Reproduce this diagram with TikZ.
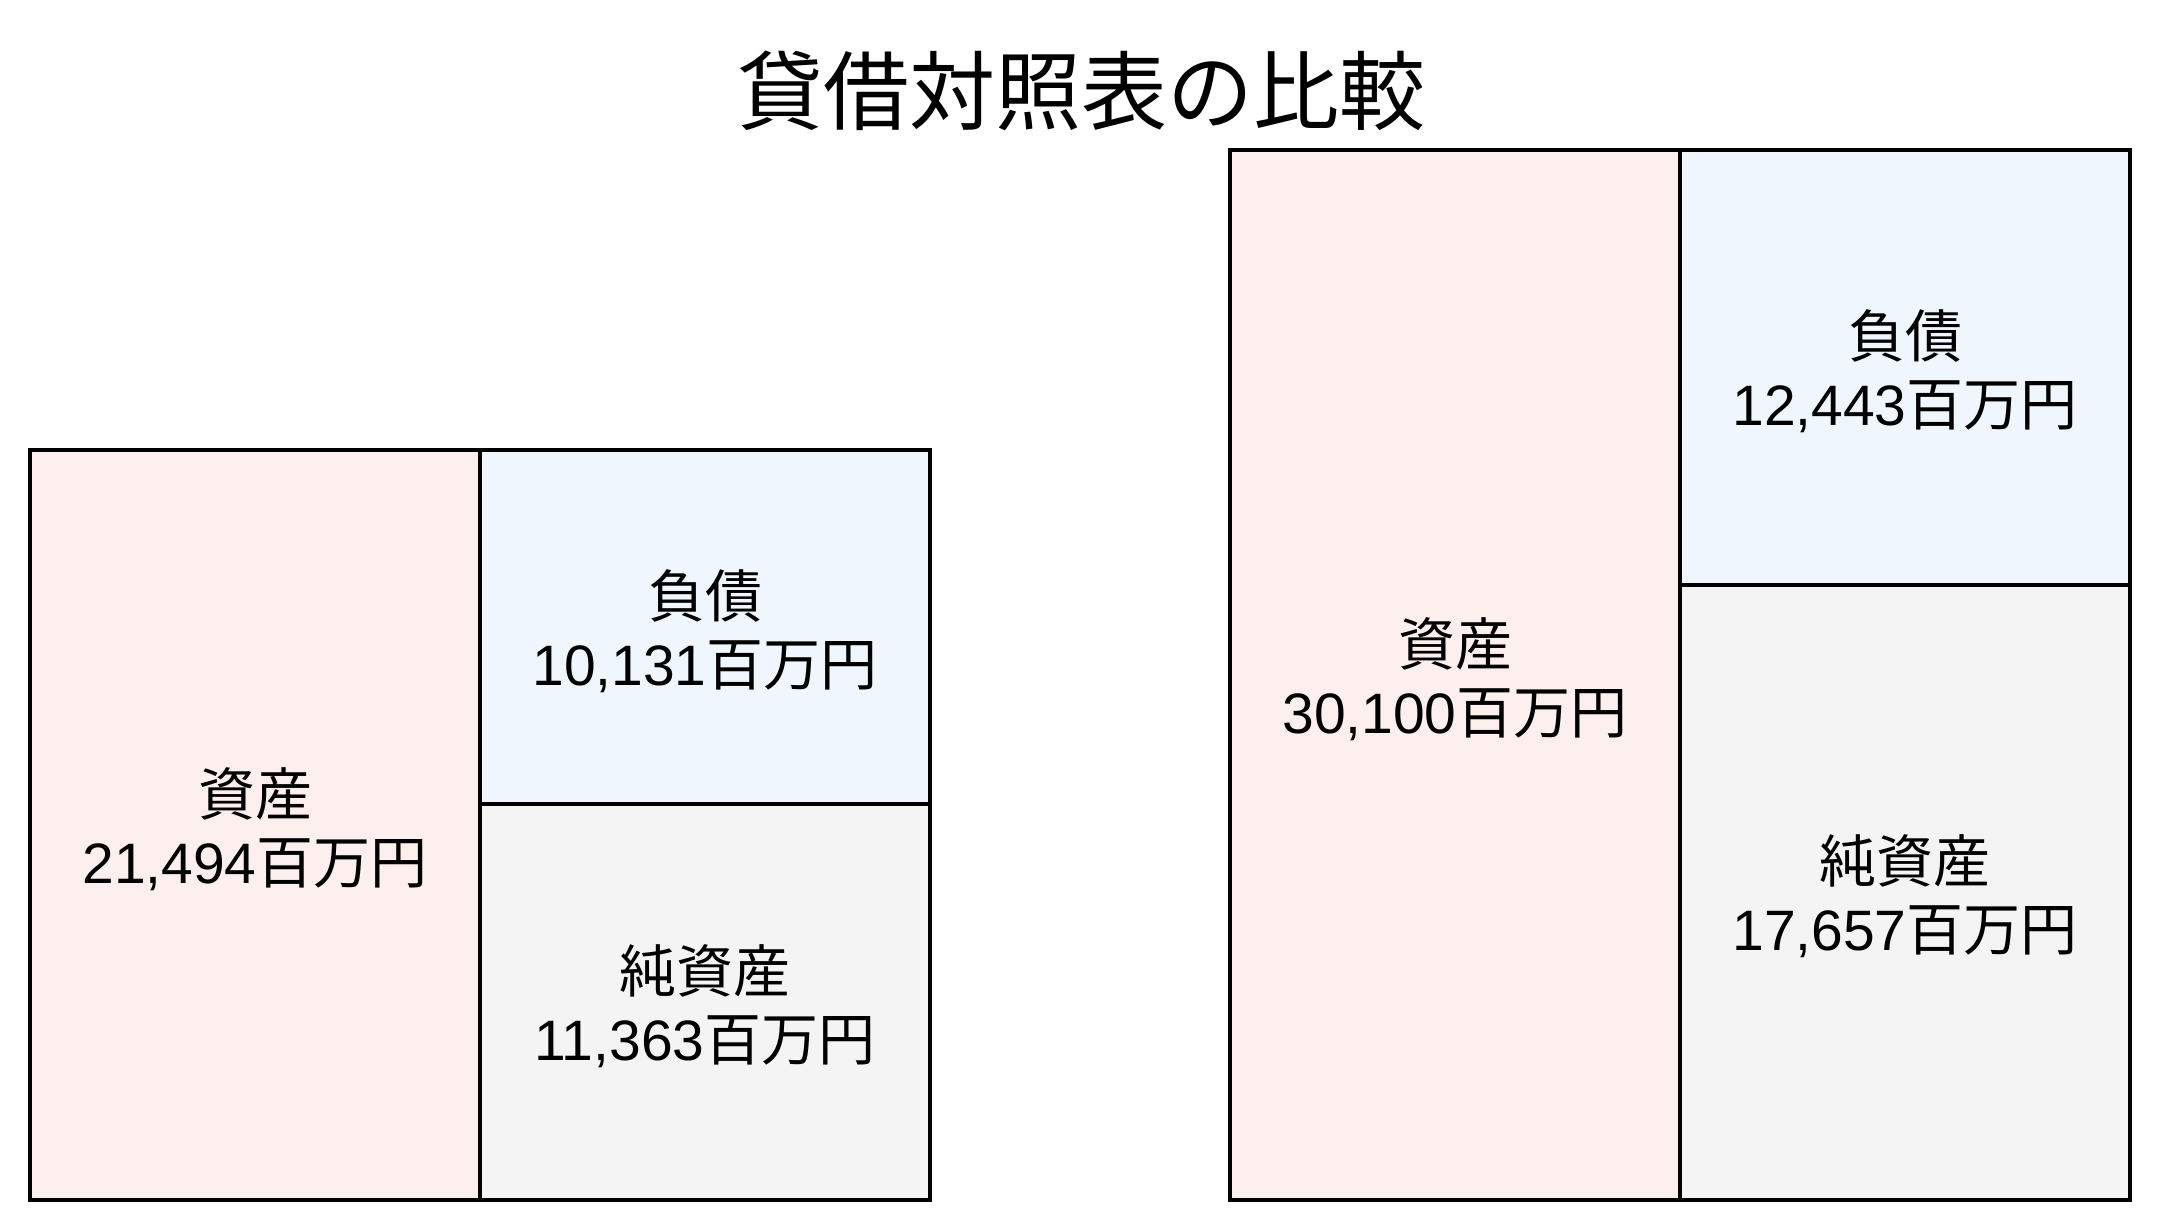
\documentclass[tikz,border=0pt]{standalone}
\usepackage{fontspec}
\setmainfont{Liberation Sans}
\newfontfamily\jp{Noto Sans CJK JP}
\definecolor{assetc}{RGB}{253,239,238}
\definecolor{liabc}{RGB}{239,246,253}
\definecolor{equityc}{RGB}{244,244,244}
\tikzset{
  cell/.style={draw=black, line width=2.2pt, align=center, inner sep=0pt,
    font=\fontsize{28.5pt}{34pt}\selectfont},
  celltext/.style={align=center, inner sep=0pt, yshift=-2pt,
    font=\fontsize{28.5pt}{34pt}\selectfont},
  titletext/.style={font=\jp\fontsize{43pt}{50pt}\selectfont, inner sep=0pt}
}
\begin{document}
\begin{tikzpicture}[x=0.5pt,y=-0.5pt]
\useasboundingbox (0,0) rectangle (2160,1231);
\node[titletext] (title) at (1081,91) {貸借対照表の比較};
% left balance sheet
\node[cell, fill=assetc, minimum width=225pt, minimum height=375pt] (la) at (255,825) {};
\node[cell, fill=liabc, minimum width=225pt, minimum height=177pt] (ll) at (705,627) {};
\node[cell, fill=equityc, minimum width=225pt, minimum height=198pt] (le) at (705,1002) {};
\node[celltext] (lat) at (la.center) {{\jp 資産}\\21,494{\jp 百万円}};
\node[celltext] (llt) at (ll.center) {{\jp 負債}\\10,131{\jp 百万円}};
\node[celltext] (let) at (le.center) {{\jp 純資産}\\11,363{\jp 百万円}};
% right balance sheet
\node[cell, fill=assetc, minimum width=225pt, minimum height=525pt] (ra) at (1455,675) {};
\node[cell, fill=liabc, minimum width=225pt, minimum height=217.5pt] (rl) at (1905,367.5) {};
\node[cell, fill=equityc, minimum width=225pt, minimum height=307.5pt] (re) at (1905,892.5) {};
\node[celltext] (rat) at (ra.center) {{\jp 資産}\\30,100{\jp 百万円}};
\node[celltext] (rlt) at (rl.center) {{\jp 負債}\\12,443{\jp 百万円}};
\node[celltext] (ret) at (re.center) {{\jp 純資産}\\17,657{\jp 百万円}};
\end{tikzpicture}
\end{document}
